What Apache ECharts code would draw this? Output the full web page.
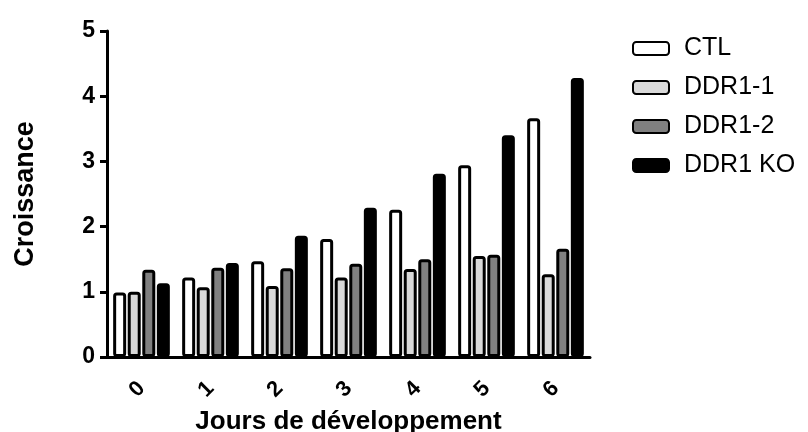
<!DOCTYPE html>
<html>
<head>
<meta charset="utf-8">
<script src="https://cdn.jsdelivr.net/npm/echarts@6/dist/echarts.min.js"></script>
<style>
html,body{margin:0;padding:0;background:#fff;}
#chart{width:808px;height:432px;}
</style>
</head>
<body>
<div id="chart"></div>
<script>
const categories = ['0', '1', '2', '3', '4', '5', '6'];
const seriesNames = ['CTL', 'DDR1-1', 'DDR1-2', 'DDR1 KO'];
const ctl = [0.99, 1.22, 1.47, 1.81, 2.26, 2.94, 3.66];
const ddr1_1 = [1.00, 1.07, 1.09, 1.22, 1.35, 1.55, 1.27];
const ddr1_2 = [1.34, 1.37, 1.36, 1.43, 1.50, 1.57, 1.66];
const ddr1ko = [1.13, 1.44, 1.86, 2.29, 2.81, 3.40, 4.28];
const yTicks = [0, 1, 2, 3, 4, 5];
const fills = ['#ffffff', '#d9d9d9', '#808080', '#000000'];
const seriesData = [ctl, ddr1_1, ddr1_2, ddr1ko];

const FONT = '"Liberation Sans", Arial, sans-serif';
const chart = echarts.init(document.getElementById('chart'));
chart.setOption({
  backgroundColor: '#ffffff',
  animation: false,
  textStyle: { fontFamily: FONT, color: '#000' },
  legend: {
    orient: 'vertical',
    left: 632,
    top: 36,
    padding: 0,
    itemWidth: 36,
    itemHeight: 13,
    itemGap: 14,
    textStyle: { fontFamily: FONT, fontSize: 25, color: '#000', padding: [0, 0, 0, 10] },
    data: seriesNames
  },
  grid: { left: 107, right: 218, top: 31, bottom: 75, containLabel: false, outerBoundsMode: 'none' },
  xAxis: {
    type: 'category',
    data: categories,
    name: 'Jours de développement',
    nameLocation: 'middle',
    nameGap: 50,
    nameTextStyle: { fontFamily: FONT, fontSize: 26, fontWeight: 'bold', color: '#000' },
    axisLine: { lineStyle: { color: '#000', width: 3 } },
    axisTick: { alignWithLabel: true, length: 7, lineStyle: { color: '#000', width: 3 } },
    axisLabel: { rotate: 45, margin: 28, fontFamily: FONT, fontSize: 22, fontWeight: 'bold', color: '#000' }
  },
  yAxis: {
    type: 'value',
    min: 0,
    max: 5,
    interval: 1,
    name: 'Croissance',
    nameLocation: 'middle',
    nameGap: 68,
    nameTextStyle: { fontFamily: FONT, fontSize: 27, fontWeight: 'bold', color: '#000' },
    axisLine: { show: true, lineStyle: { color: '#000', width: 3 } },
    axisTick: { show: true, length: 7, lineStyle: { color: '#000', width: 3 } },
    splitLine: { show: false },
    axisLabel: { margin: 12, fontFamily: FONT, fontSize: 23, fontWeight: 'bold', color: '#000',
      formatter: v => (yTicks.indexOf(v) >= 0 ? String(v) : '') }
  },
  series: seriesNames.map((n, i) => ({
    name: n,
    type: 'bar',
    data: seriesData[i],
    barWidth: 13,
    barGap: '12%',
    itemStyle: { color: fills[i], borderColor: '#000', borderWidth: 3, borderRadius: 2 }
  }))
});
</script>
</body>
</html>
